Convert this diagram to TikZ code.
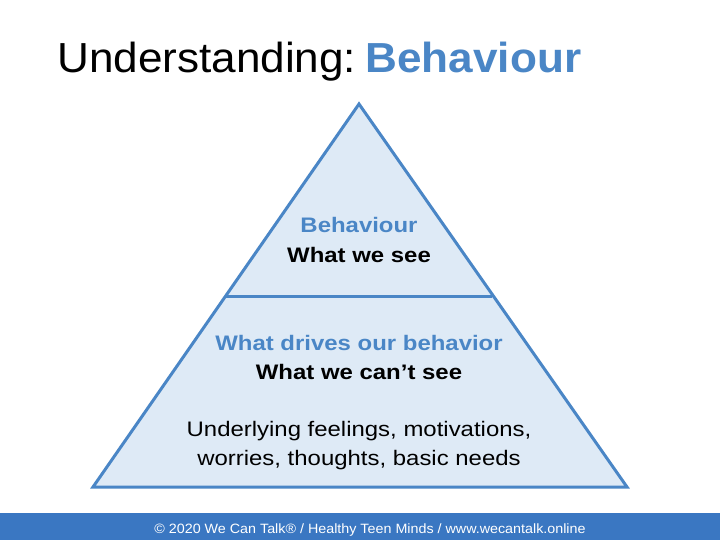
\documentclass[tikz,border=0pt]{standalone}
\usepackage{fontspec}
\setmainfont{Liberation Sans}
\newfontfamily\pyrfont[FakeStretch=1.14]{Liberation Sans}
\newfontfamily\titlefont[FakeStretch=1.05]{Liberation Sans}
\newfontfamily\footfont[FakeStretch=1.06]{Liberation Sans}
\definecolor{pblue}{HTML}{4A86C6}
\definecolor{pfill}{HTML}{DEEAF6}
\definecolor{barblue}{HTML}{3A77C2}
\begin{document}
\begin{tikzpicture}[x=1pt,y=-1pt,
  tri/.style={draw=pblue,line width=3pt,fill=pfill,line join=miter},
  lbl/.style={align=center,font=\pyrfont\fontsize{21}{29}\selectfont,inner sep=0pt}]
\useasboundingbox (0,0) rectangle (720,540);
\fill[white] (0,0) rectangle (720,540);
% title
\node[anchor=base west,inner sep=0pt,font=\titlefont\fontsize{42}{48}\selectfont] (title) at (57,73)
  {Understanding:\hspace{0.22em}\textcolor{pblue}{\bfseries Behaviour}};
% pyramid
\coordinate (apex) at (359,104);
\coordinate (bl) at (93,487);
\coordinate (br) at (627,487);
\draw[tri] (apex) -- (br) -- (bl) -- cycle;
\coordinate (dl) at (226,296);
\coordinate (dr) at (492,296);
\draw[draw=pblue,line width=3pt] (dl) -- (dr);
% labels
\node[lbl,anchor=base] (top1) at (359,233) {\textcolor{pblue}{\bfseries Behaviour}};
\node[lbl,anchor=base] (top2) at (359,262) {\bfseries What we see};
\node[lbl,anchor=base] (mid1) at (359,350) {\textcolor{pblue}{\bfseries What drives our behavior}};
\node[lbl,anchor=base] (mid2) at (359,379) {\bfseries What we can’t see};
\node[lbl,anchor=base] (bot1) at (359,436) {Underlying feelings, motivations,};
\node[lbl,anchor=base] (bot2) at (359,465) {worries, thoughts, basic needs};
% footer
\fill[barblue] (0,513) rectangle (720,540);
\node[anchor=base,inner sep=0pt,text=white,font=\footfont\fontsize{13.5}{16}\selectfont] (foot) at (370,533)
  {© 2020 We Can Talk® / Healthy Teen Minds / www.wecantalk.online};
\end{tikzpicture}
\end{document}
